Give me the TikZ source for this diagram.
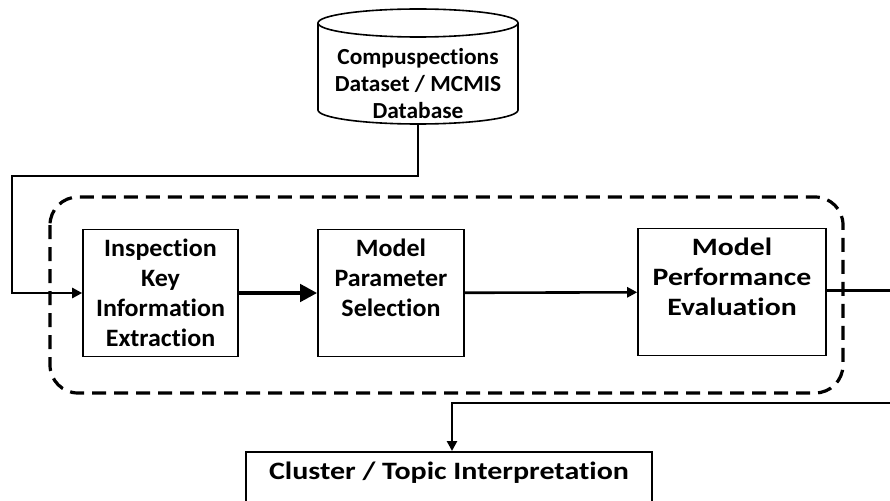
\documentclass[tikz,border=0pt]{standalone}
\usepackage{fontspec}
\setmainfont{Carlito}[Ligatures=CommonOff]
\newfontfamily\fntbox{Carlito}[FakeStretch=1.04, Ligatures=CommonOff]
\newfontfamily\fntdb{Carlito}[FakeStretch=1.02, Ligatures=CommonOff]
\newfontfamily\fntperf{Carlito}[FakeStretch=1.19, Ligatures=CommonOff]
\newfontfamily\fntclu{Carlito}[FakeStretch=1.20, Ligatures=CommonOff]
\usetikzlibrary{arrows.meta}
\begin{document}
\begin{tikzpicture}[x=1pt,y=1pt,
  box/.style={draw, line width=1.6pt, align=center, font=\fntbox\bfseries\fontsize{25}{30}\selectfont, inner sep=0pt, minimum height=127pt},
  conn/.style={line width=2.6pt},
  tip/.style={-{Triangle[length=10pt,width=10pt]}},
  bigtip/.style={-{Triangle[length=17pt,width=17pt]}},
  frame/.style={line width=3.2pt, dash pattern=on 14pt off 8pt, rounded corners=28pt},
  lbl/.style={font=\fntclu\bfseries\fontsize{25}{30}\selectfont, align=center, inner sep=0pt},
  dblbl/.style={font=\fntdb\bfseries\fontsize{23}{27}\selectfont, align=center, inner sep=0pt}
]
\useasboundingbox (0,0) rectangle (890,-500);
\clip (0,0) rectangle (890,-500);

% database cylinder
\draw[line width=1.6pt, fill=white] (318,-23) -- (318,-110) arc[start angle=180, end angle=360, x radius=100, y radius=14] -- (518,-23);
\draw[line width=1.6pt] (418,-23) ellipse [x radius=100, y radius=14];
\node[dblbl] (dbt) at (418,-84) {Compuspections\\Dataset / MCMIS\\Database};
\coordinate (dbb) at (418,-124);

% group frame
\draw[frame] (50,-197) rectangle (843,-393);

% boxes
\node[box, minimum width=155pt] (ike) at (160.5,-293) {Inspection\\Key\\Information\\Extraction};
\node[box, minimum width=146pt] (mps) at (391,-293) {Model\\Parameter\\Selection\\\mbox{}};
\node[box, minimum width=188pt, font=\fntperf\bfseries\fontsize{25}{30}\selectfont] (mpe) at (732,-292) {Model\\Performance\\Evaluation\\\mbox{}};

\node[draw, line width=1.6pt, minimum width=406pt, minimum height=100pt, anchor=north, inner sep=0pt] (ci) at (449,-451) {};
\node[lbl] (cit) at (449,-473) {Cluster / Topic Interpretation};

% connectors
\coordinate (lft) at (12,-176);
\draw[conn, tip] (dbb) |- (lft) |- (ike.west);
\draw[line width=4.5pt, bigtip] (ike) -- (mps);
\draw[conn, tip] (mps) -- (mpe);
\coordinate (r1) at (900,-290.5);
\coordinate (r3) at (452,-403);
\draw[conn, tip] (mpe.east |- r1) -- (r1) |- (r3) -- (r3 |- ci.north);
\end{tikzpicture}
\end{document}
